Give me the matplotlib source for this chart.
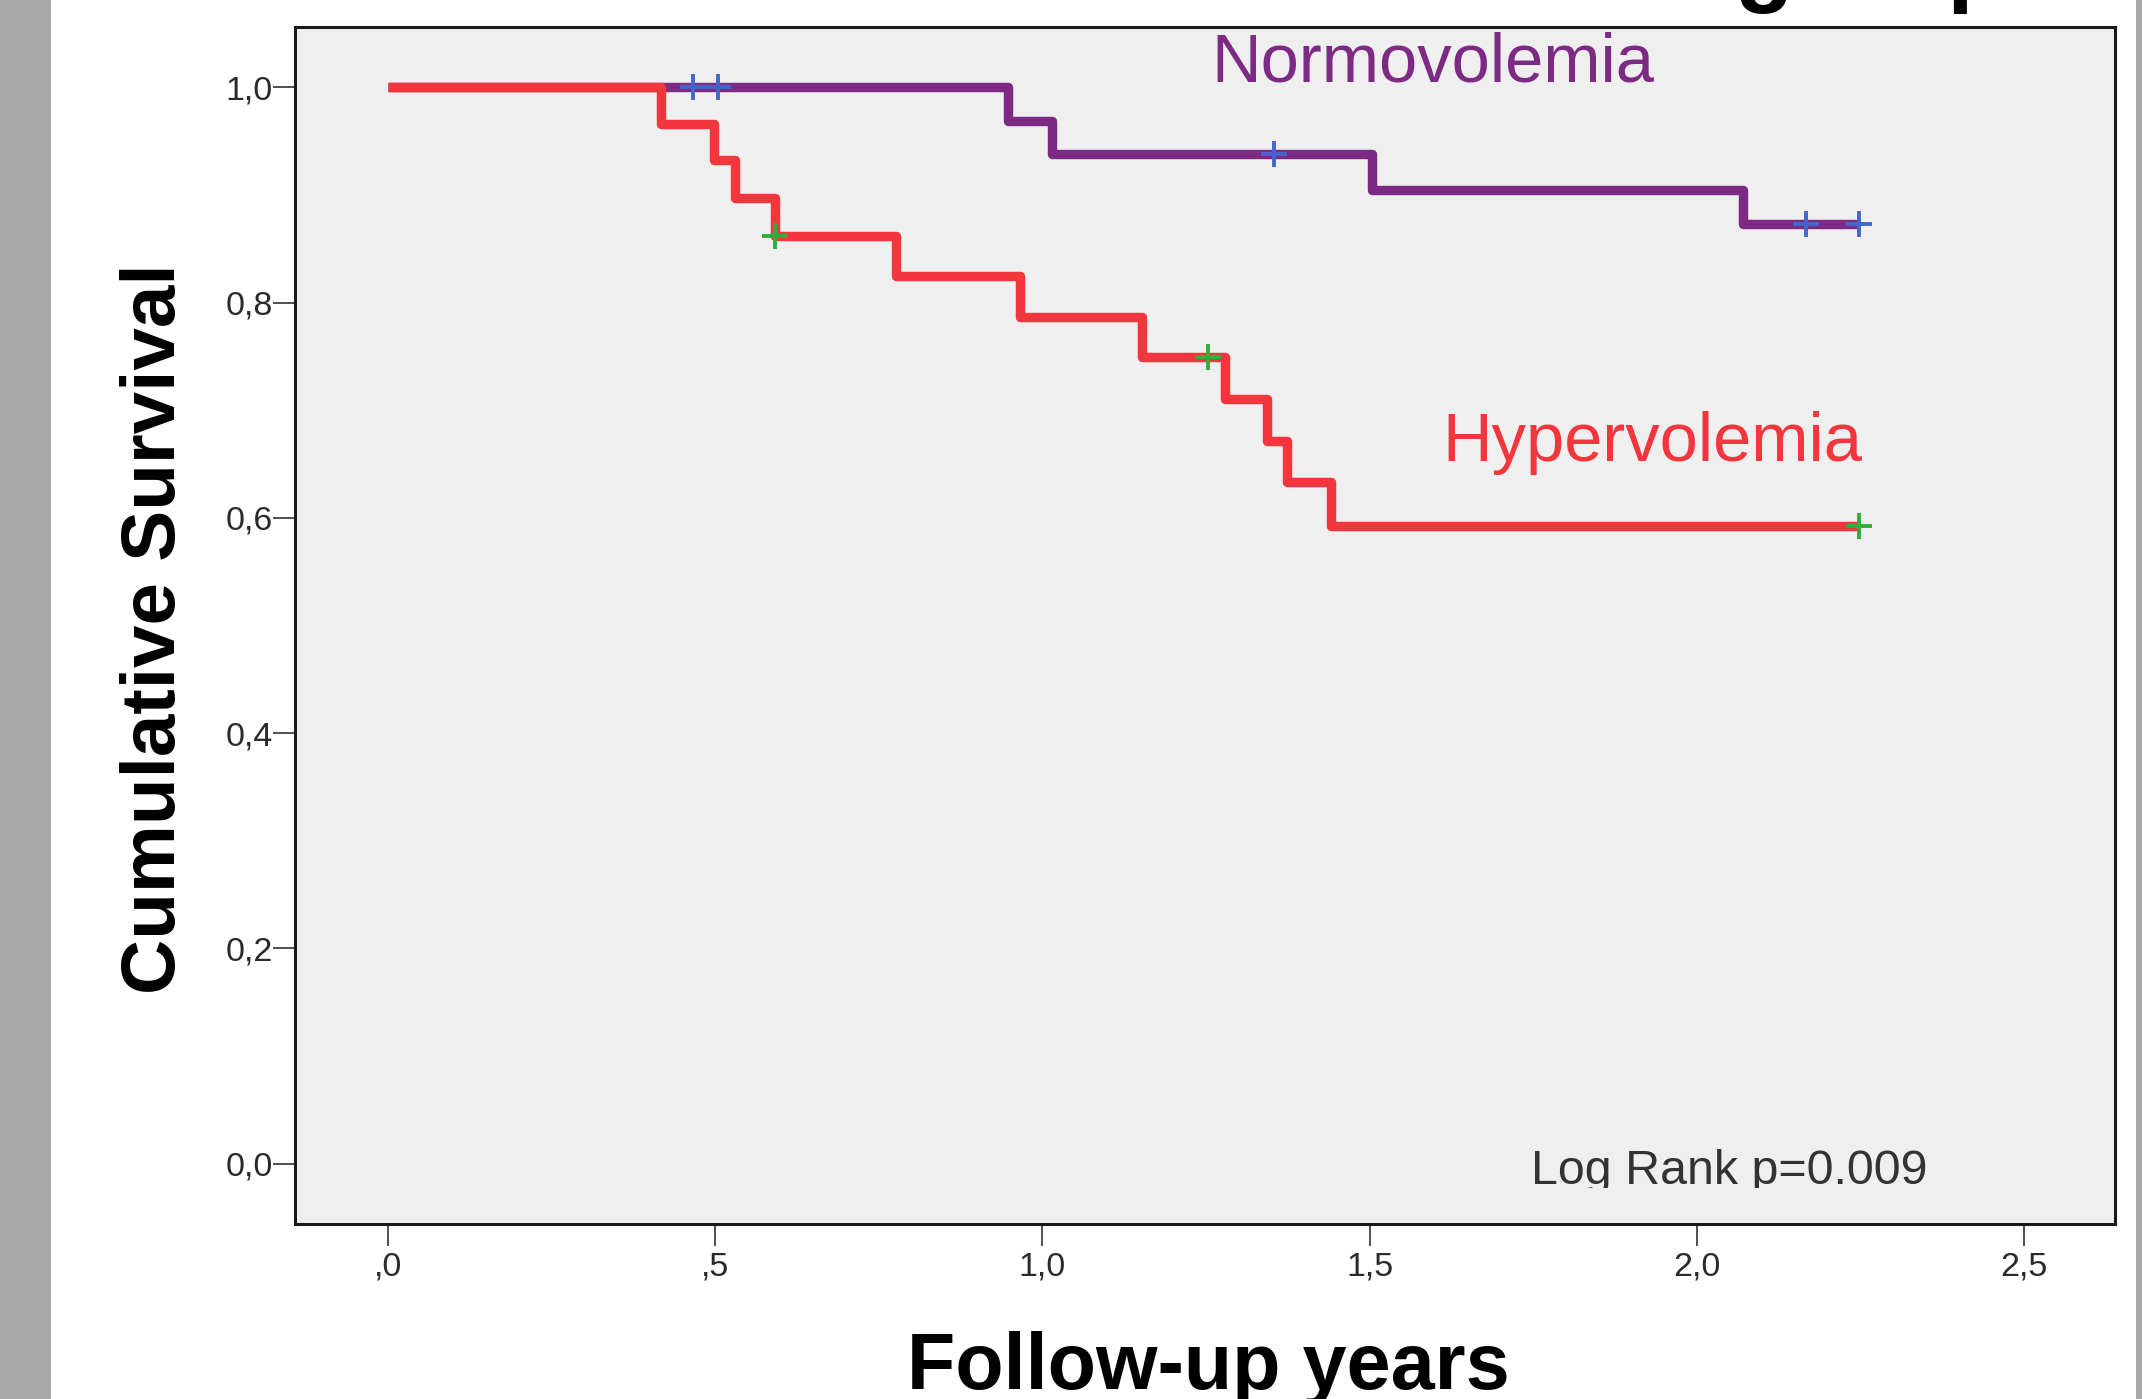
import matplotlib
matplotlib.use("Agg")
import matplotlib.pyplot as plt
import numpy as np
from matplotlib.patches import Rectangle
from matplotlib.transforms import Bbox, TransformedBbox

plt.rcParams["font.family"] = ["Liberation Sans", "DejaVu Sans"]

# Kaplan-Meier steps (years, cumulative survival)
hyper_times = [0.0, 0.417, 0.498, 0.530, 0.592, 0.776, 0.966, 1.152, 1.279, 1.343, 1.374, 1.441]
hyper_surv = [1.0, 0.966, 0.932, 0.897, 0.862, 0.825, 0.787, 0.749, 0.710, 0.671, 0.633, 0.592]
hyper_end = 2.248
hyper_censored = [0.592, 1.253, 2.248]

normo_times = [0.0, 0.947, 1.015, 1.503, 2.070]
normo_surv = [1.0, 0.969, 0.938, 0.905, 0.873]
normo_end = 2.248
normo_censored = [0.466, 0.504, 1.354, 2.167, 2.248]

x_ticks = [0.0, 0.5, 1.0, 1.5, 2.0, 2.5]
x_tick_labels = [",0", ",5", "1,0", "1,5", "2,0", "2,5"]
y_ticks = [0.0, 0.2, 0.4, 0.6, 0.8, 1.0]
y_tick_labels = ["0,0", "0,2", "0,4", "0,6", "0,8", "1,0"]

PURPLE = "#7d2a85"
RED = "#f2363d"
BLUE = "#4466cc"
GREEN = "#2fae3a"

W, H = 2142, 1399


def surv_at(times, surv, t):
    idx = np.searchsorted(times, t, side="right") - 1
    return surv[idx]


def step_data(times, surv, end):
    return list(times) + [end], list(surv) + [surv[-1]]


fig = plt.figure(figsize=(W / 100, H / 100), dpi=100)
fig.patch.set_facecolor("white")

# grey strips at the screenshot edges
fig.patches.append(Rectangle((0, 0), 51 / W, 1, transform=fig.transFigure,
                             facecolor="#a8a8a8", edgecolor="none"))
fig.patches.append(Rectangle((2136 / W, 0), 6 / W, 1, transform=fig.transFigure,
                             facecolor="#a8a8a8", edgecolor="none"))

left, right, top, bottom = 295, 2115, 27, 1224
ax = fig.add_axes([left / W, 1 - bottom / H, (right - left) / W, (bottom - top) / H])
ax.set_facecolor("#efefef")

nx, ny = step_data(normo_times, normo_surv, normo_end)
ax.step(nx, ny, where="post", color=PURPLE, lw=6.8, zorder=3, solid_capstyle="butt")
hx, hy = step_data(hyper_times, hyper_surv, hyper_end)
ax.step(hx, hy, where="post", color=RED, lw=6.8, zorder=4, solid_capstyle="butt")

ax.plot(normo_censored, [surv_at(normo_times, normo_surv, t) for t in normo_censored],
        ls="none", marker="+", ms=19, mew=2.8, color=BLUE, zorder=5)
ax.plot(hyper_censored, [surv_at(hyper_times, hyper_surv, t) for t in hyper_censored],
        ls="none", marker="+", ms=19, mew=2.8, color=GREEN, zorder=5)

ax.set_xlim(-0.142, 2.639)
ax.set_ylim(-0.056, 1.056)
ax.set_xticks(x_ticks)
ax.set_xticklabels(x_tick_labels)
ax.set_yticks(y_ticks)
ax.set_yticklabels(y_tick_labels)
ax.tick_params(axis="both", direction="out", length=16, width=1.2,
               color="#333333", labelsize=24.5, labelcolor="#2a2a2a")
ax.tick_params(axis="y", pad=0)
ax.tick_params(axis="x", pad=4)
for s in ax.spines.values():
    s.set_linewidth(2.2)
    s.set_color("#1a1a1a")

# curve labels
fig.text(1211 / W, 1 - 82 / H, "Normovolemia", color=PURPLE, fontsize=49.5,
         ha="left", va="baseline")
fig.text(1442 / W, 1 - 461 / H, "Hypervolemia", color=RED, fontsize=49.5,
         ha="left", va="baseline")

# SPSS clips the descender of the g here
lr = fig.text(1531 / W, 1 - 1184 / H, "Log Rank p=0.009", color="#333333",
              fontsize=34.8, ha="left", va="baseline")
lr.set_clip_box(TransformedBbox(Bbox([[0, 1 - 1188 / H], [1, 1]]), fig.transFigure))
lr.set_clip_on(True)

# axis titles
fig.text(175 / W, 1 - 629 / H, "Cumulative Survival", fontsize=55, fontweight="bold",
         rotation=90, rotation_mode="anchor", ha="center", va="baseline")
fig.text(1208 / W, 1 - 1389 / H, "Follow-up years", fontsize=57, fontweight="bold",
         ha="center", va="baseline")

# cut-off chart title, only its descenders show
fig.text(1734 / W, 1 + 6 / H, "group", fontsize=69, fontweight="bold",
         ha="left", va="baseline")

fig.savefig("out.png", dpi=100)
plt.close(fig)
